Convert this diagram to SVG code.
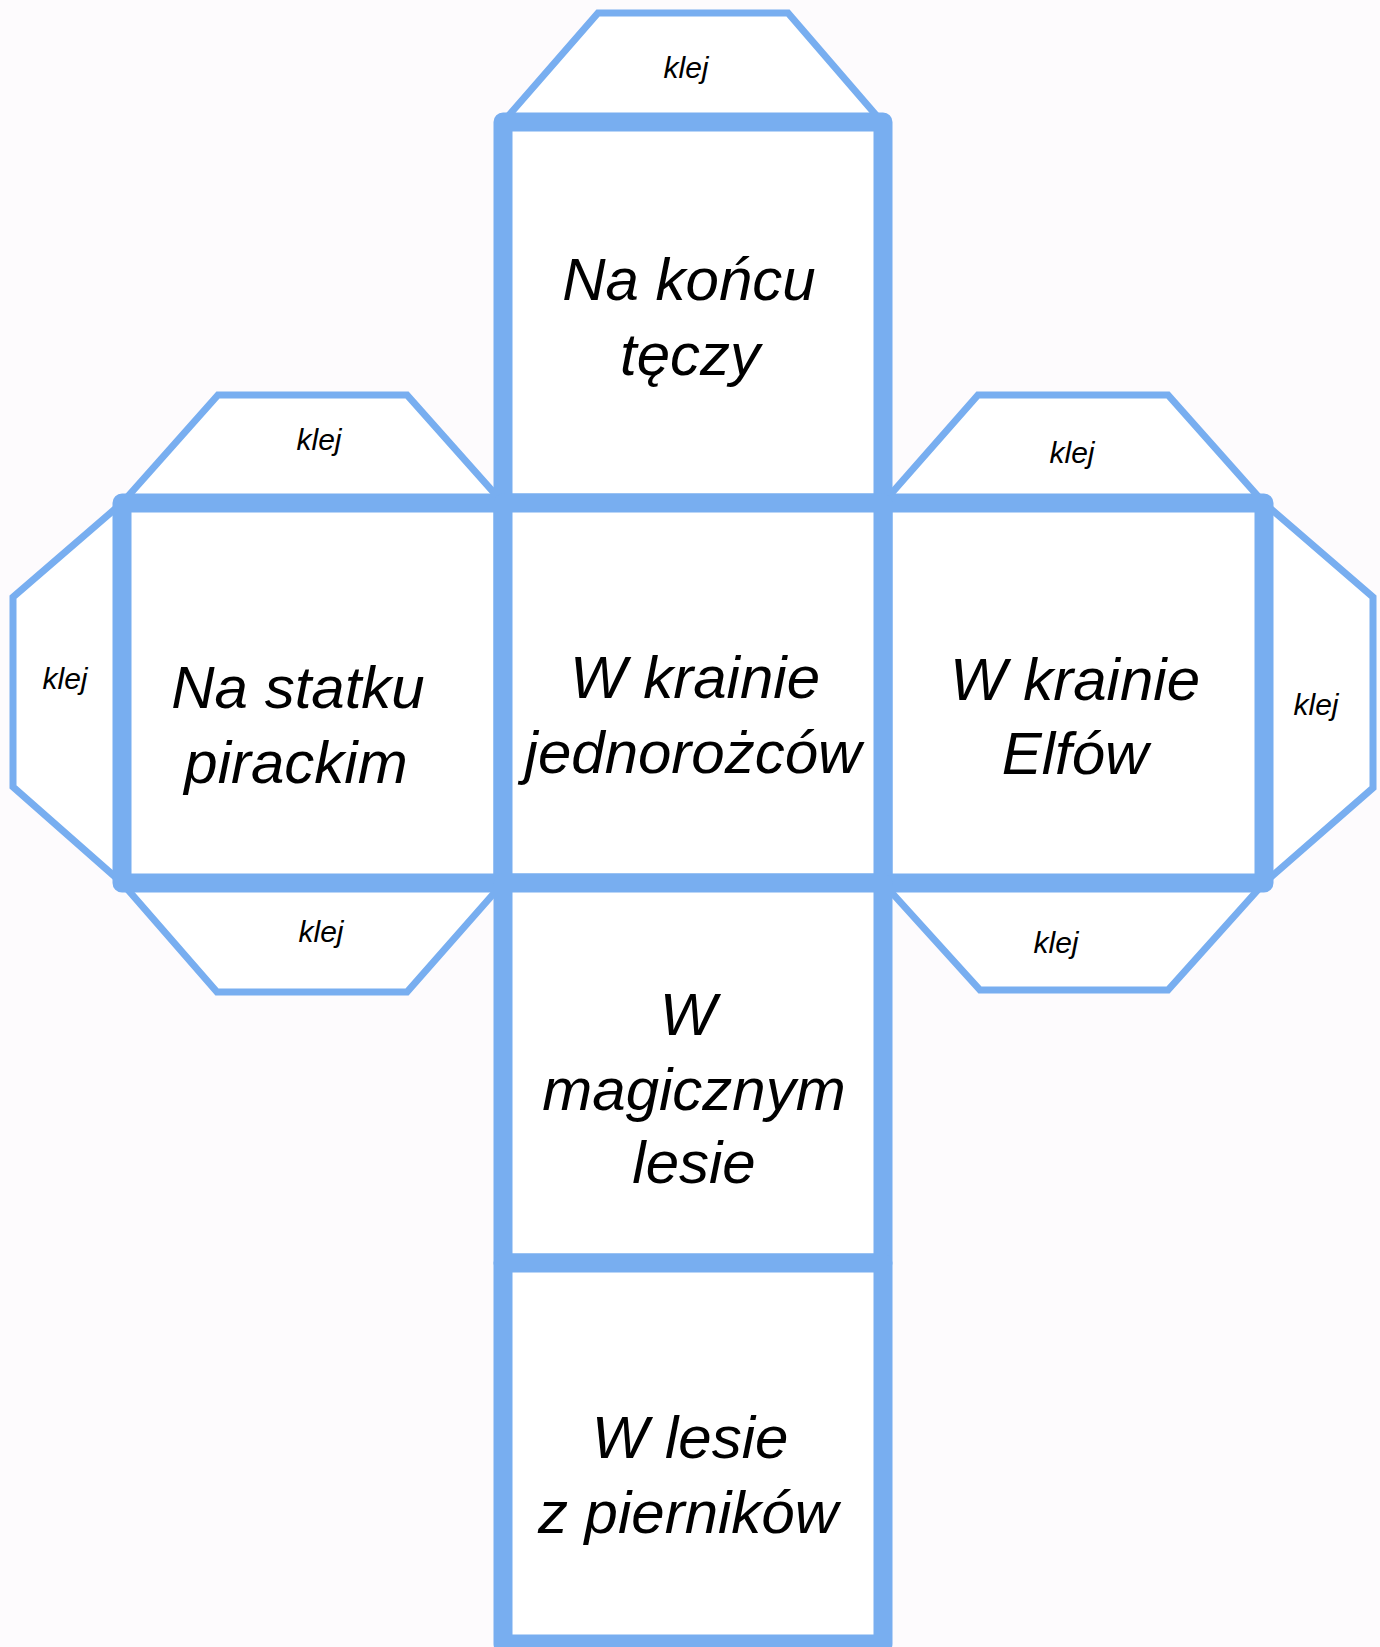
<svg xmlns="http://www.w3.org/2000/svg" width="1380" height="1647" viewBox="0 0 1380 1647">
<style>
.bg{fill:#fdfbfd}
.tab{fill:#ffffff;stroke:#78aef0;stroke-width:7;stroke-linejoin:miter}
.face{fill:#ffffff;stroke:#78aef0;stroke-width:19;stroke-linejoin:round;stroke-linecap:round}
.big{font-family:"Liberation Sans",Arial,sans-serif;font-style:italic;font-size:60px;fill:#000;text-anchor:middle}
.small{font-family:"Liberation Sans",Arial,sans-serif;font-style:italic;font-size:30px;fill:#000;text-anchor:middle}
</style>
<rect class="bg" x="0" y="0" width="1380" height="1647"/>
<g id="tabs">
  <g id="tab-top"><polygon class="tab" points="503,122 598,13 788,13 882,122"/><text class="small" x="686" y="78">klej</text></g>
  <g id="tab-left-top"><polygon class="tab" points="122,503 218,395 407,395 503,503"/><text class="small" x="319" y="450">klej</text></g>
  <g id="tab-right-top"><polygon class="tab" points="883,503 978,395 1168,395 1264,503"/><text class="small" x="1072" y="463">klej</text></g>
  <g id="tab-left"><polygon class="tab" points="122,503 13,597 13,787 122,883"/><text class="small" x="65" y="689">klej</text></g>
  <g id="tab-right"><polygon class="tab" points="1264,503 1373,597 1373,788 1264,883"/><text class="small" x="1316" y="715">klej</text></g>
  <g id="tab-left-bottom"><polygon class="tab" points="122,883 217,992 407,992 503,883"/><text class="small" x="321" y="942">klej</text></g>
  <g id="tab-right-bottom"><polygon class="tab" points="883,883 980,990 1168,990 1264,883"/><text class="small" x="1056" y="953">klej</text></g>
</g>
<g id="connectors"></g>
<g id="face-top"><rect class="face" x="503" y="122" width="380" height="381"/>
  <text class="big" x="689" y="300">Na końcu</text><text class="big" x="690" y="375">tęczy</text></g>
<g id="face-left"><rect class="face" x="122" y="503" width="381" height="380"/>
  <text class="big" x="298" y="708">Na statku</text><text class="big" x="296" y="783">pirackim</text></g>
<g id="face-right"><rect class="face" x="883" y="503" width="381" height="380"/>
  <text class="big" x="1075" y="700">W krainie</text><text class="big" x="1075" y="774">Elfów</text></g>
<g id="face-middle"><rect class="face" x="503" y="503" width="380" height="380"/>
  <text class="big" x="695" y="698">W krainie</text><text class="big" x="693" y="773">jednorożców</text></g>
<g id="face-magic"><rect class="face" x="503" y="883" width="380" height="380"/>
  <text class="big" x="688" y="1035">W</text><text class="big" x="694" y="1110">magicznym</text><text class="big" x="694" y="1183">lesie</text></g>
<g id="face-bottom"><rect class="face" x="503" y="1263" width="380" height="381"/>
  <text class="big" x="690" y="1458">W lesie</text><text class="big" x="688" y="1533">z pierników</text></g>
</svg>
